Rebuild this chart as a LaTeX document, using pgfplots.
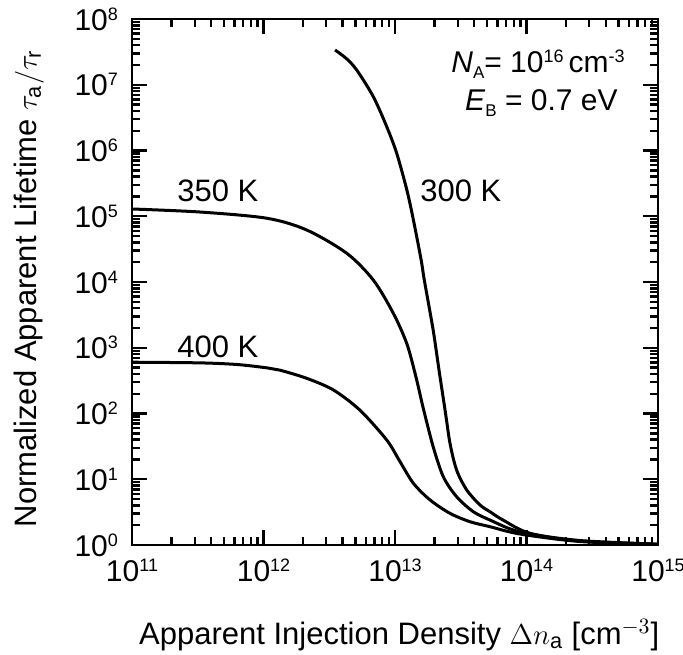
\documentclass[border=0pt]{standalone}
\usepackage{fontspec}
\setmainfont{Liberation Sans}
\usepackage{pgfplots}
\pgfplotsset{compat=1.18}
\newcommand\tl[1]{10\raisebox{5pt}{\fontsize{9}{10}\selectfont #1}}
\newcommand\sups[1]{\raisebox{5pt}{\fontsize{9}{10}\selectfont #1}}
\newcommand\subs[1]{\raisebox{-3pt}{\fontsize{8.5}{10}\selectfont #1}}
\begin{document}
\begin{tikzpicture}
\path[use as bounding box] (-66pt,-54.5pt) rectangle (275.5pt,272.5pt);
\begin{axis}[
  at={(0pt,0pt)}, anchor=south west,
  scale only axis, width=263pt, height=263pt,
  xmode=log, ymode=log,
  xmin=1e11, xmax=1e15, ymin=1, ymax=1e8,
  xtick={1e11,1e12,1e13,1e14,1e15},
  xticklabels={\tl{11},\tl{12},\tl{13},\tl{14},\tl{15}},
  ytick={1,1e1,1e2,1e3,1e4,1e5,1e6,1e7,1e8},
  yticklabels={\tl{0},\tl{1},\tl{2},\tl{3},\tl{4},\tl{5},\tl{6},\tl{7},\tl{8}},
  tick align=inside,
  major tick length=7.5pt, minor tick length=4pt,
  every tick/.style={black, line width=1.2pt},
  axis line style={line width=1.3pt},
  ticklabel style={font=\fontsize{15}{18}\selectfont},
  xticklabel style={yshift=-3.5pt},
  yticklabel style={xshift=-3.5pt},
  label style={font=\fontsize{15.5}{18}\selectfont},
  xlabel={Apparent Injection Density $\Delta n_{\mathrm{a}}$ [cm$^{-3}$]},
  ylabel={Normalized Apparent Lifetime $\tau_{\mathrm{a}}/\tau_{\mathrm{r}}$},
  xlabel style={at={(axis description cs:0.508,-0.171)}, anchor=center},
  ylabel style={at={(axis description cs:-0.196,0.487)}, anchor=center},
]
% 300 K
\addplot[black, line width=1.5pt, smooth] coordinates {
(3.50e12,3.38e7) (4.27e12,2.50e7) (5.12e12,1.67e7) (6.84e12,6.58e6) (8.65e12,2.30e6) (1.03e13,9.06e5)
(1.23e13,2.51e5) (1.38e13,8.77e4) (1.58e13,2.16e4) (1.67e13,1.07e4) (1.95e13,1.86e3)
(2.16e13,459) (2.42e13,102) (2.62e13,35) (2.94e13,13.8) (3.51e13,6.87)
(4.43e13,4.06) (5.27e13,3.21) (6.62e13,2.40) (1.06e14,1.51) (2.55e14,1.17) (1e15,1.03)
};
% 350 K
\addplot[black, line width=1.5pt, smooth] coordinates {
(1e11,1.29e5) (3.29e11,1.16e5) (1.06e12,9.33e4) (2.13e12,6.18e4) (4.30e12,2.73e4)
(6.84e12,1.07e4) (9.71e12,3.34e3) (1.23e13,1.15e3) (1.445e13,355) (1.64e13,120)
(1.95e13,31.3) (2.33e13,10.9) (2.94e13,5.43) (3.94e13,3.21) (5.27e13,2.40)
(8.93e13,1.58) (2.55e14,1.15) (1e15,1.03)
};
% 400 K
\addplot[black, line width=1.5pt, smooth] coordinates {
(1e11,603) (3.29e11,589) (6.31e11,556) (1.06e12,495) (1.33e12,457) (2.13e12,343)
(3.40e12,228) (5.42e12,112) (8.65e12,39.5) (1.09e13,18.6)
(1.38e13,8.67) (1.85e13,4.83) (2.62e13,3.03) (3.72e13,2.26) (5.27e13,1.90)
(8.93e13,1.47) (2.55e14,1.13) (1e15,1.02)
};
\node[font=\fontsize{15.5}{18}\selectfont, anchor=base west, inner sep=0pt] at (axis cs:2.20e11,1.65e5) {350 K};
\node[font=\fontsize{15.5}{18}\selectfont, anchor=base west, inner sep=0pt] at (axis cs:2.20e11,723) {400 K};
\node[font=\fontsize{15.5}{18}\selectfont, anchor=base west, inner sep=0pt] at (axis cs:1.55e13,1.65e5) {300 K};
\node[font=\fontsize{15}{18}\selectfont, anchor=base east, inner sep=0pt] at (axis cs:5.61e14,1.56e7) {\textit{N}\subs{A}= 10\sups{16}\,cm\sups{-3}};
\node[font=\fontsize{15}{18}\selectfont, anchor=base east, inner sep=0pt] at (axis cs:4.97e14,4.13e6) {\textit{E}\subs{B} = 0.7 eV};
\end{axis}
\end{tikzpicture}
\end{document}
